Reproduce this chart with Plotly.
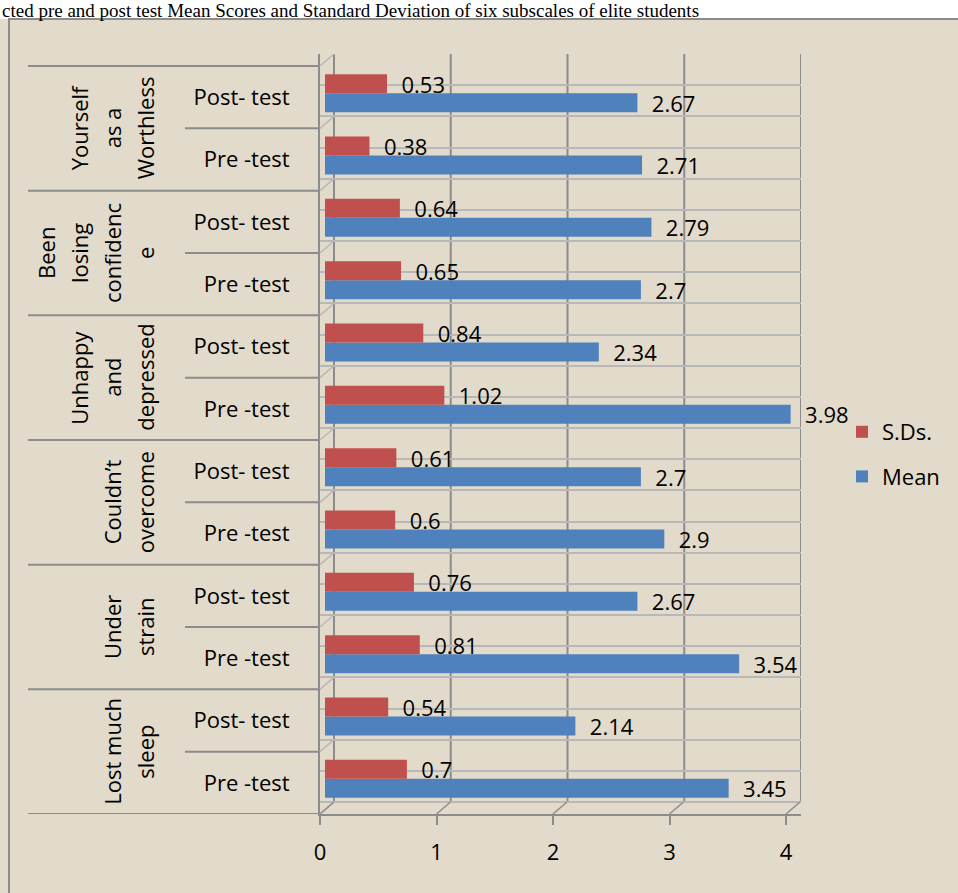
import plotly.graph_objects as go

# ---------------- data ----------------
groups = [["Lost much", "sleep"], ["Under", "strain"], ["Couldn’t", "overcome"],
          ["Unhappy", "and", "depressed"], ["Been", "losing", "confidenc", "e"],
          ["Yourself", "as a", "Worthless"]]
phases = ["Pre -test", "Post- test"]
mean_vals = [3.45, 2.14, 3.54, 2.67, 2.9, 2.7, 3.98, 2.34, 2.7, 2.79, 2.71, 2.67]
sd_vals = [0.7, 0.54, 0.81, 0.76, 0.6, 0.61, 1.02, 0.84, 0.65, 0.64, 0.38, 0.53]
row_labels = [p for g in groups for p in phases]
x_ticks = [0, 1, 2, 3, 4]
title_text = "cted pre and post test Mean Scores and Standard Deviation of six subscales of elite students"

RED = "#C0504D"
BLUE = "#4F81BD"
BG = "#E2DACA"
LINE = "#8C8C8C"
FONT = "Open Sans"
FS = 22

pos = list(range(len(row_labels)))

# ---------------- figure geometry (pixels) ----------------
W, H = 958, 893
L, R, T, B = 320, 157, 54, 79
PW, PH = W - L - R, H - T - B


def px_x(p):
    return (p - L) / PW


def px_y(p):
    return 1 + (T - p) / PH


fig = go.Figure()
fig.add_trace(go.Bar(
    y=pos, x=mean_vals, orientation="h", name="Mean",
    marker=dict(color=BLUE, line=dict(width=0)),
    offset=-0.241, width=0.305,
    text=mean_vals, texttemplate="\u00a0\u00a0%{x}", textposition="outside",
    constraintext="none", cliponaxis=False,
    textfont=dict(family=FONT, size=FS, color="black"),
    legendrank=2, legendgroup="m",
))
fig.add_trace(go.Bar(
    y=pos, x=sd_vals, orientation="h", name="S.Ds.",
    marker=dict(color=RED, line=dict(width=0)),
    offset=0.064, width=0.305,
    text=sd_vals, texttemplate="\u00a0\u00a0%{x}", textposition="outside",
    constraintext="none", cliponaxis=False,
    textfont=dict(family=FONT, size=FS, color="black"),
    legendrank=1, legendgroup="s",
))
# empty helper traces so the front axis and back-wall grid axes are drawn
fig.add_trace(go.Scatter(x=[], y=[], xaxis="x2", yaxis="y", showlegend=False,
                         hoverinfo="skip"))
fig.add_trace(go.Scatter(x=[], y=[], xaxis="x3", yaxis="y2", showlegend=False,
                         hoverinfo="skip"))

n = len(row_labels)
unit_y = 62.33
ytop = n - 0.5 + 12 / unit_y
ybot = -0.5

shapes = []
shapes.append(dict(type="rect", xref="paper", yref="paper", layer="below",
                   x0=px_x(-5), x1=px_x(W + 5), y0=px_y(-5), y1=px_y(19),
                   fillcolor="white", line=dict(width=0)))
shapes.append(dict(type="rect", xref="paper", yref="paper", layer="above",
                   x0=px_x(9), x1=px_x(W + 5), y0=px_y(19), y1=px_y(H + 5),
                   fillcolor="rgba(0,0,0,0)", line=dict(color=LINE, width=2)))
for k in range(n + 1):
    yb = k - 0.5
    x0 = px_x(28) if k % 2 == 0 else px_x(185)
    shapes.append(dict(type="line", xref="paper", yref="y", x0=x0, x1=0,
                       y0=yb, y1=yb, line=dict(color=LINE, width=2)))
    # 3-D depth connectors on the left side
    shapes.append(dict(type="line", xref="paper", yref="y", x0=0, x1=px_x(334),
                       y0=yb, y1=yb + 12 / unit_y,
                       line=dict(color="#B8B8B8", width=1.5)))
# 3-D depth connectors at the bottom ticks and back-wall vertical grid
for t in x_ticks:
    shapes.append(dict(type="line", xref="x2", yref="paper", x0=t, x1=t + 14 / 116.5,
                       y0=0, y1=12 / PH, line=dict(color=LINE, width=1.5)))
    shapes.append(dict(type="line", xref="x3", yref="y2", layer="below",
                       x0=t, x1=t, y0=-0.5, y1=n - 0.5,
                       line=dict(color=LINE, width=2)))

annotations = []
for gi, g in enumerate(groups):
    m = len(g)
    for li, line in enumerate(g):
        xc = 145 - (m - 1 - li) * 33
        annotations.append(dict(
            text=line, xref="paper", yref="y", x=px_x(xc), y=2 * gi + 0.5,
            xanchor="center", yanchor="middle", textangle=-90, showarrow=False,
            font=dict(family=FONT, size=FS, color="black")))
annotations.append(dict(
    text=title_text, xref="paper", yref="paper", x=px_x(1), y=px_y(-1),
    xanchor="left", yanchor="top", showarrow=False, borderpad=0,
    font=dict(family="Liberation Serif", size=19, color="black")))

fig.update_layout(
    width=W, height=H,
    margin=dict(l=L, r=R, t=T, b=B, pad=0),
    paper_bgcolor=BG, plot_bgcolor=BG,
    barmode="overlay",
    showlegend=True,
    legend=dict(x=px_x(842), y=px_y(411), xanchor="left", yanchor="top",
                traceorder="grouped", tracegroupgap=13,
                bgcolor="rgba(0,0,0,0)",
                font=dict(family=FONT, size=FS, color="black")),
    xaxis=dict(range=[-5 / 117, -5 / 117 + PW / 117], showgrid=False,
               showticklabels=False, zeroline=False, showline=False),
    xaxis2=dict(overlaying="x", anchor="y", side="bottom",
                range=[0, PW / 116.5], tickvals=x_ticks,
                showgrid=False, zeroline=False, showline=True,
                linecolor=LINE, linewidth=2, ticks="outside", ticklen=9,
                tickcolor=LINE, tickwidth=2, ticklabelstandoff=9,
                tickfont=dict(family=FONT, size=FS, color="black")),
    xaxis3=dict(overlaying="x", anchor="y2", side="top",
                range=[-14 / 116.75, 4.0], tickvals=x_ticks,
                showgrid=False,
                showticklabels=False, zeroline=False, showline=False),
    yaxis=dict(range=[ybot, ytop], tickvals=pos, ticktext=row_labels,
               showgrid=False, zeroline=False, showline=True,
               linecolor=LINE, linewidth=2, ticks="", ticklabelstandoff=24,
               tickfont=dict(family=FONT, size=FS, color="black")),
    yaxis2=dict(overlaying="y", anchor="x3", side="left",
                range=[ybot - 12 / unit_y, n - 0.5], tick0=-0.5, dtick=0.5,
                showgrid=True, gridcolor="#B8B8B8", gridwidth=2,
                showticklabels=False, zeroline=False, showline=False),
    shapes=shapes,
    annotations=annotations,
)

fig.write_html("out.html")
